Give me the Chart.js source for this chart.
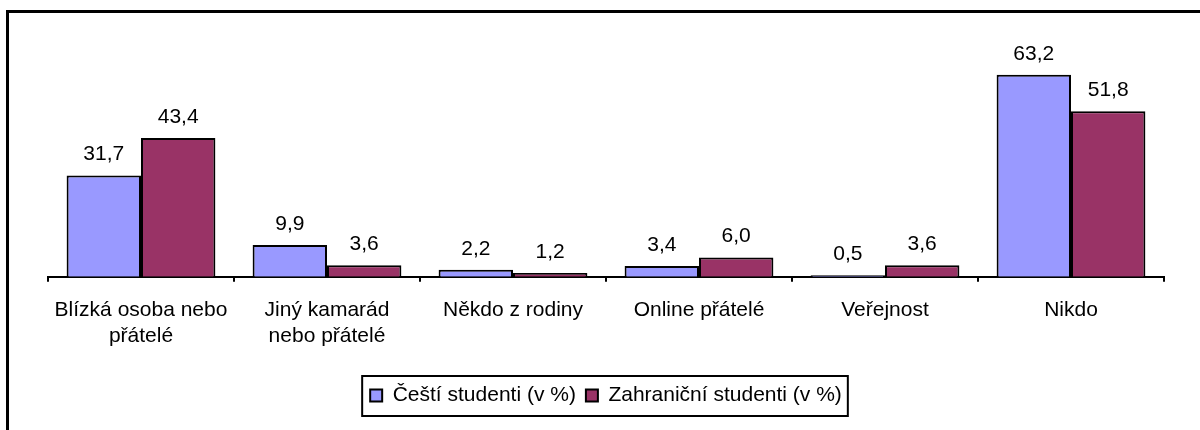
<!DOCTYPE html>
<html>
<head>
<meta charset="utf-8">
<script src="https://cdn.jsdelivr.net/npm/chart.js@4.4.1/dist/chart.umd.min.js"></script>
<style>
  body { margin: 0; background: #fff; }
  #wrap { position: relative; width: 1200px; height: 430px; overflow: hidden; }
  #frame { position: absolute; left: 6px; top: 10px; width: 1300px; height: 500px;
           border-left: 3px solid #000; border-top: 3px solid #000; pointer-events: none; }
</style>
</head>
<body>
<div id="wrap">
  <canvas id="barChart"></canvas>
  <div id="frame"></div>
</div>
<script>
// categories and values (in %)
var kategorie = [
  ["Blízká osoba nebo", "přátelé"],
  ["Jiný kamarád", "nebo přátelé"],
  "Někdo z rodiny",
  "Online přátelé",
  "Veřejnost",
  "Nikdo"
];
var cesti = [31.7, 9.9, 2.2, 3.4, 0.5, 63.2];
var zahranicni = [43.4, 3.6, 1.2, 6.0, 3.6, 51.8];
var nazvy = ["Čeští studenti (v %)", "Zahraniční studenti (v %)"];

var pismo = "'Liberation Sans', Arial, sans-serif";

// values above bars, with decimal comma
var popisky = {
  id: "popisky",
  afterDatasetsDraw: function (chart) {
    var ctx = chart.ctx;
    ctx.save();
    ctx.fillStyle = "#000";
    ctx.font = "21px " + pismo;
    ctx.textAlign = "center";
    ctx.textBaseline = "middle";
    chart.data.datasets.forEach(function (ds, i) {
      chart.getDatasetMeta(i).data.forEach(function (bar, j) {
        ctx.fillText(ds.data[j].toFixed(1).replace(".", ","), bar.x, bar.y - 21);
      });
    });
    ctx.restore();
  }
};

// frame around legend
var ramecek = {
  id: "ramecek",
  afterDraw: function (chart) {
    var boxes = chart.legend.legendHitBoxes;
    if (!boxes || !boxes.length) return;
    var l = boxes[0].left, r = 0, t = boxes[0].top, b = 0;
    boxes.forEach(function (h) {
      l = Math.min(l, h.left);
      r = Math.max(r, h.left + h.width);
      t = Math.min(t, h.top);
      b = Math.max(b, h.top + h.height);
    });
    var ctx = chart.ctx;
    ctx.save();
    ctx.strokeStyle = "#000";
    ctx.lineWidth = 2;
    ctx.strokeRect(l - 8, t - 9, r - l + 14, b - t + 19);
    ctx.restore();
  }
};

var ctxB = document.getElementById("barChart").getContext("2d");
var myBarChart = new Chart(ctxB, {
  type: "bar",
  data: {
    labels: kategorie,
    datasets: [
      {
        label: nazvy[0],
        data: cesti,
        backgroundColor: "#9999FF",
        borderColor: "#000",
        borderWidth: 2,
      },
      {
        label: nazvy[1],
        data: zahranicni,
        backgroundColor: "#993366",
        borderColor: "#000",
        borderWidth: 2,
      },
    ],
  },
  options: {
    responsive: true,
    maintainAspectRatio: false,
    animation: false,
    datasets: { bar: { categoryPercentage: 0.8, barPercentage: 1.0 } },
    layout: { padding: { left: 48, right: 36, top: 53, bottom: 14 } },
    scales: {
      y: { display: false, min: 0, max: 70 },
      x: {
        grid: { display: true, drawOnChartArea: false, drawTicks: true, tickLength: 5, color: "#000", lineWidth: 2, offset: true },
        border: { display: true, color: "#000", width: 2 },
        ticks: {
          color: "#000",
          font: { family: pismo, size: 21, lineHeight: 1.22 },
          padding: 16,
          maxRotation: 0,
          autoSkip: false,
        },
        afterFit: function (s) { s.height += 10; },
      },
    },
    plugins: {
      tooltip: { enabled: false },
      legend: {
        position: "bottom",
        labels: {
          color: "#000",
          font: { family: pismo, size: 21 },
          boxWidth: 12,
          boxHeight: 12,
          padding: 10,
        },
      },
    },
  },
  plugins: [popisky, ramecek],
});
</script>
</body>
</html>
